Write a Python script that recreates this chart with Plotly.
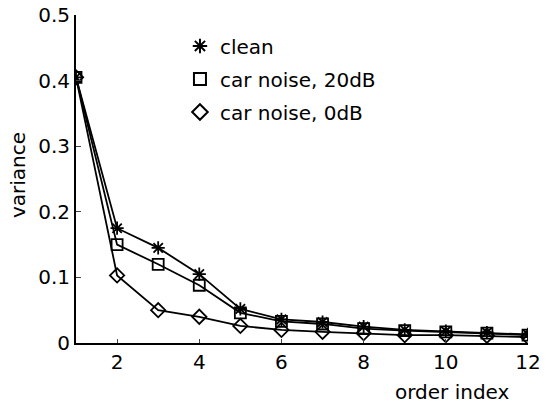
import plotly.graph_objects as go

order_index = [1, 2, 3, 4, 5, 6, 7, 8, 9, 10, 11, 12]
clean = [0.405, 0.175, 0.145, 0.105, 0.052, 0.036, 0.032, 0.025, 0.020, 0.018, 0.016, 0.013]
car_20db = [0.405, 0.150, 0.120, 0.088, 0.046, 0.033, 0.029, 0.022, 0.019, 0.017, 0.015, 0.012]
car_0db = [0.405, 0.103, 0.050, 0.040, 0.026, 0.020, 0.017, 0.015, 0.012, 0.012, 0.011, 0.009]
names = ["clean", "car noise, 20dB", "car noise, 0dB"]
x_ticks = [2, 4, 6, 8, 10, 12]
y_ticks = [0, 0.1, 0.2, 0.3, 0.4, 0.5]
y_tick_text = ["0", "0.1", "0.2", "0.3", "0.4", "0.5"]

FONT = "DejaVu Sans, Liberation Sans, Arial, sans-serif"
FS = 20
symbols = ["asterisk-open", "square-open", "diamond-open"]
series = [clean, car_20db, car_0db]

fig = go.Figure()
for name, ys, sym in zip(names, series, symbols):
    fig.add_trace(go.Scatter(
        x=order_index, y=ys, mode="lines+markers", showlegend=False,
        line=dict(color="black", width=1.8),
        marker=dict(symbol=sym, size=11, color="black", line=dict(color="black", width=1.8)),
    ))
for i, (name, sym) in enumerate(zip(names, symbols)):
    fig.add_trace(go.Scatter(
        x=[None], y=[None], mode="markers", name=name, legendgroup="g%d" % i,
        marker=dict(symbol=sym, size=11, color="black", line=dict(color="black", width=1.8)),
    ))

fig.update_layout(
    width=546, height=403,
    margin=dict(l=76, r=18, t=15, b=60),
    paper_bgcolor="white", plot_bgcolor="white",
    font=dict(family=FONT, size=FS, color="black"),
    showlegend=True,
    legend=dict(x=0.23, y=0.965, xanchor="left", yanchor="top",
                bgcolor="rgba(0,0,0,0)", font=dict(size=FS, family=FONT),
                itemsizing="constant", tracegroupgap=4, itemwidth=30),
    xaxis=dict(range=[1, 12], tickvals=x_ticks, ticks="inside", ticklen=4,
               showline=True, linecolor="black", linewidth=2, showgrid=False,
               zeroline=False, mirror=False, automargin=False,
               ticklabeloverflow="allow"),
    yaxis=dict(range=[0, 0.5], tickvals=y_ticks, ticktext=y_tick_text,
               ticks="inside", ticklen=5, showline=True, linecolor="black",
               linewidth=2, showgrid=False, zeroline=False, mirror=False,
               automargin=False, ticklabeloverflow="allow"),
    annotations=[
        dict(text="order index", x=1.0, y=0, xref="paper", yref="paper",
             xanchor="right", yanchor="top", yshift=-35, xshift=-16, showarrow=False,
             font=dict(size=FS, family=FONT)),
        dict(text="variance", x=0, y=0.512, xref="paper", yref="paper",
             xanchor="center", yanchor="middle", xshift=-58, textangle=-90,
             showarrow=False, font=dict(size=FS, family=FONT)),
    ],
)

fig.write_html("out.html", config={"displayModeBar": False},
               post_script="document.body.style.margin='0';")
